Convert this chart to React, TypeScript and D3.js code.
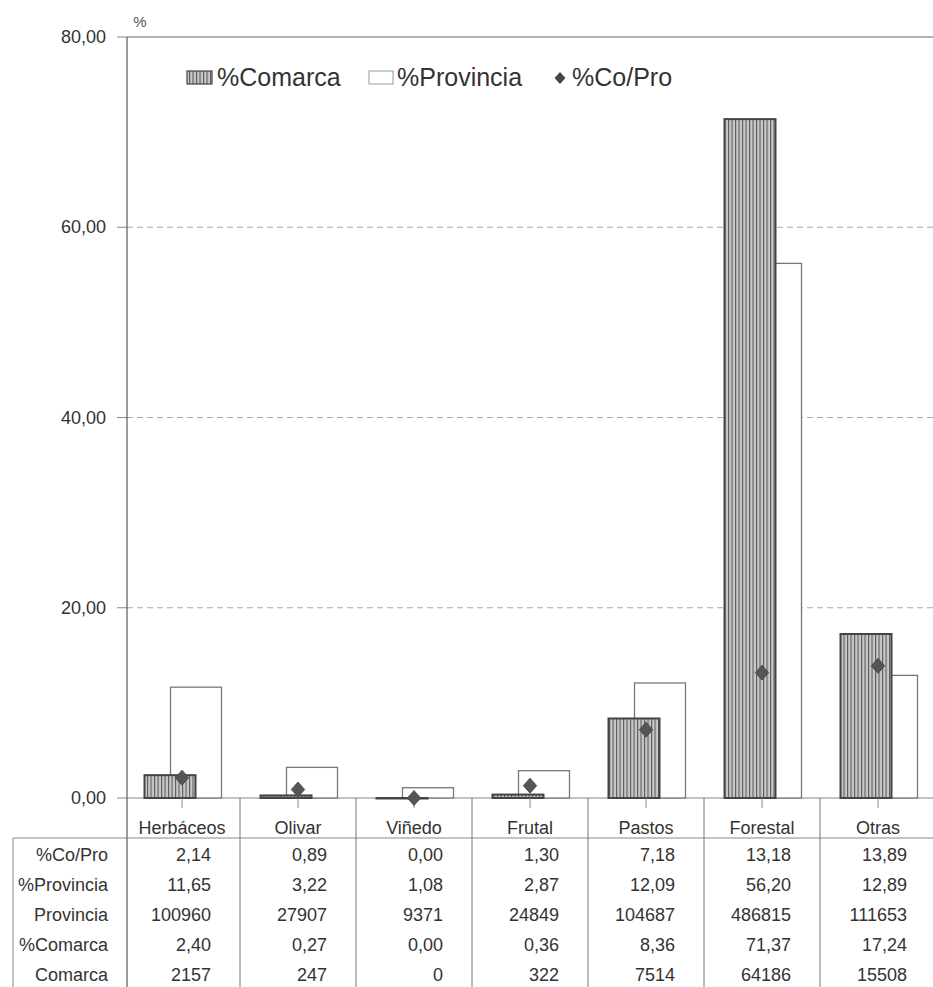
import React from "react";
import * as d3 from "d3";

const categories = ["Herbáceos", "Olivar", "Viñedo", "Frutal", "Pastos", "Forestal", "Otras"];
const pctComarca = [2.4, 0.27, 0.0, 0.36, 8.36, 71.37, 17.24];
const pctProvincia = [11.65, 3.22, 1.08, 2.87, 12.09, 56.2, 12.89];
const pctCoPro = [2.14, 0.89, 0.0, 1.3, 7.18, 13.18, 13.89];
const provincia = [100960, 27907, 9371, 24849, 104687, 486815, 111653];
const comarca = [2157, 247, 0, 322, 7514, 64186, 15508];
const yTicks = [0, 20, 40, 60, 80];
const legendLabels = ["%Comarca", "%Provincia", "%Co/Pro"];

const fmtPct = (v: number) => v.toFixed(2).replace(".", ",");
const fmtInt = (v: number) => String(Math.round(v));

const tableRows: { label: string; values: string[] }[] = [
  { label: "%Co/Pro", values: pctCoPro.map(fmtPct) },
  { label: "%Provincia", values: pctProvincia.map(fmtPct) },
  { label: "Provincia", values: provincia.map(fmtInt) },
  { label: "%Comarca", values: pctComarca.map(fmtPct) },
  { label: "Comarca", values: comarca.map(fmtInt) },
];

const FONT = "'Liberation Sans', Arial, Helvetica, sans-serif";

export default function App() {
  const W = 933;
  const H = 987;
  const axisX = 127;
  const plotLeft = 124;
  const plotRight = 936;
  const y = d3.scaleLinear().domain([0, 80]).range([798, 37]);
  const x = d3.scaleBand<string>().domain(categories).range([plotLeft, plotRight]).paddingInner(0).paddingOuter(0);
  const bw = x.bandwidth();
  const barW = 51;
  const center = (c: string) => (x(c) as number) + bw / 2;

  const tableTop = 798;
  const headerLine = 838;
  const rowY = d3.scaleLinear().domain([0, 4]).range([854, 974]);

  const diamond = (cx: number, cy: number, r = 7.5) =>
    `M${cx},${cy - r}L${cx + r * 0.9},${cy}L${cx},${cy + r}L${cx - r * 0.9},${cy}Z`;

  return (
    <svg
      width={W}
      height={H}
      style={{ position: "absolute", left: 0, top: 0, background: "#fff" }}
      fontFamily={FONT}
    >
      <defs>
        <pattern id="stripes" patternUnits="userSpaceOnUse" width={3.5} height={10}>
          <rect width={3.5} height={10} fill="#c8c8c8" />
          <rect x={0} width={1.1} height={10} fill="#5a5a5a" />
        </pattern>
      </defs>

      {/* gridlines */}
      {yTicks.map((t) => (
        <line
          key={"g" + t}
          x1={axisX}
          x2={plotRight}
          y1={y(t)}
          y2={y(t)}
          stroke={t === 80 ? "#999" : t === 0 ? "#888" : "#aaa"}
          strokeWidth={t === 80 ? 1.5 : 1}
          strokeDasharray={t === 0 || t === 80 ? undefined : "6,4"}
        />
      ))}

      {/* y ticks and labels */}
      {yTicks.map((t) => (
        <g key={"t" + t}>
          <line x1={axisX - 10} x2={axisX} y1={y(t)} y2={y(t)} stroke="#888" />
          <text x={106} y={y(t) + 6} textAnchor="end" fontSize={18} fill="#333">
            {fmtPct(t)}
          </text>
        </g>
      ))}
      <text x={140} y={27} textAnchor="middle" fontSize={15} fill="#555">
        %
      </text>

      {/* provincia bars (behind) */}
      {categories.map((c, i) => (
        <rect
          key={"p" + c}
          x={center(c) - 11.5}
          y={y(pctProvincia[i])}
          width={barW}
          height={y(0) - y(pctProvincia[i])}
          fill="#fff"
          stroke="#777"
          strokeWidth={1.3}
        />
      ))}
      {/* comarca bars */}
      {categories.map((c, i) => (
        <rect
          key={"c" + c}
          x={center(c) - 37.5}
          y={y(pctComarca[i])}
          width={barW}
          height={Math.max(0.5, y(0) - y(pctComarca[i]))}
          fill="url(#stripes)"
          stroke="#444"
          strokeWidth={2}
        />
      ))}

      {/* category ticks */}
      {categories.map((c) => (
        <line key={"ct" + c} x1={center(c)} x2={center(c)} y1={y(0)} y2={y(0) + 10} stroke="#888" />
      ))}

      {/* diamonds */}
      {categories.map((c, i) => (
        <path key={"d" + c} d={diamond(center(c), y(pctCoPro[i]))} fill="#555" stroke="#444" strokeWidth={0.8} />
      ))}

      {/* y axis */}
      <line x1={axisX} x2={axisX} y1={y(80)} y2={H} stroke="#666" strokeWidth={1.3} />

      {/* table */}
      <line x1={13} x2={plotRight} y1={headerLine} y2={headerLine} stroke="#888" />
      <line x1={13} x2={13} y1={headerLine} y2={H} stroke="#888" />
      {categories.map((c) => (
        <line
          key={"v" + c}
          x1={(x(c) as number) + bw}
          x2={(x(c) as number) + bw}
          y1={tableTop}
          y2={H}
          stroke="#777"
        />
      ))}
      {categories.map((c) => (
        <text key={"cl" + c} x={center(c)} y={834} textAnchor="middle" fontSize={18} fill="#333">
          {c}
        </text>
      ))}
      {tableRows.map((r, ri) => (
        <g key={"r" + r.label}>
          <text x={108} y={rowY(ri) + 6.5} textAnchor="end" fontSize={18} fill="#333">
            {r.label}
          </text>
          {r.values.map((v, ci) => (
            <text
              key={ci}
              x={(x(categories[ci]) as number) + bw - 29}
              y={rowY(ri) + 6.5}
              textAnchor="end"
              fontSize={18}
              fill="#333"
            >
              {v}
            </text>
          ))}
        </g>
      ))}

      {/* legend */}
      <rect x={187} y={71} width={25} height={13} fill="url(#stripes)" stroke="#444" strokeWidth={1.2} />
      <text x={217} y={86} fontSize={25} fill="#333">
        {legendLabels[0]}
      </text>
      <rect x={369} y={71} width={24} height={13} fill="#fff" stroke="#999" strokeWidth={1} />
      <text x={397} y={86} fontSize={25} fill="#333">
        {legendLabels[1]}
      </text>
      <path d={diamond(560, 78, 6)} fill="#444" />
      <text x={572} y={86} fontSize={25} fill="#333">
        {legendLabels[2]}
      </text>
    </svg>
  );
}
